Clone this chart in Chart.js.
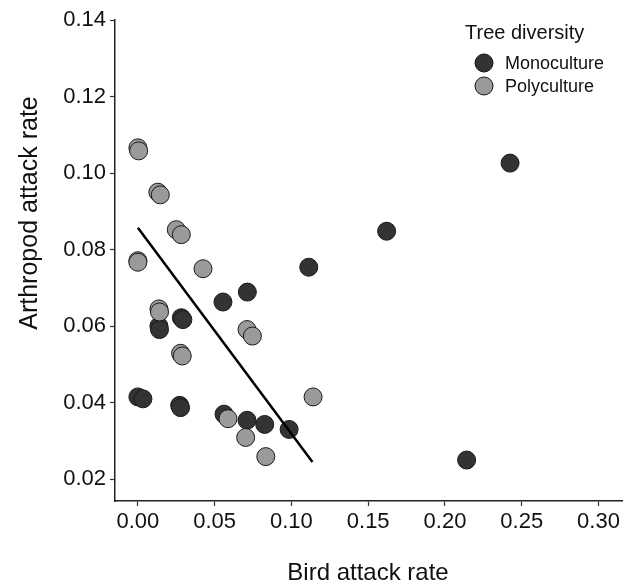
<!DOCTYPE html>
<html>
<head>
<meta charset="utf-8">
<script src="https://cdn.jsdelivr.net/npm/chart.js@4/dist/chart.umd.min.js"></script>
<style>
  body { margin: 0; background: #fff; }
  #wrap { width: 643px; height: 586px; }
</style>
</head>
<body>
<div id="wrap"><canvas id="chart" width="643" height="586"></canvas></div>
<script>
// values
const monoX = [0.2424, 0.162, 0.1113, 0.0713, 0.0554, 0.0283, 0.0293, 0.0137, 0.0141, 0.0, 0.0033, 0.0272, 0.0278, 0.0561, 0.0711, 0.0826, 0.0985, 0.2141];
const monoY = [0.1026, 0.0848, 0.0754, 0.0689, 0.0663, 0.0622, 0.0617, 0.0600, 0.0591, 0.0415, 0.0410, 0.0393, 0.0387, 0.0370, 0.0354, 0.0343, 0.0330, 0.0250];

const polyX = [0.0, 0.0005, 0.013, 0.0146, 0.025, 0.0283, 0.0, 0.0, 0.0424, 0.0137, 0.0141, 0.0278, 0.0289, 0.0711, 0.0746, 0.1141, 0.0587, 0.0702, 0.0833];
const polyY = [0.1066, 0.1058, 0.0950, 0.0943, 0.0852, 0.0839, 0.0771, 0.0767, 0.0750, 0.0645, 0.0637, 0.0529, 0.0522, 0.0591, 0.0574, 0.0415, 0.0358, 0.0309, 0.0259];

const fitX = [0.0, 0.1137];
const fitY = [0.0857, 0.0245];

const xTicks = [0.00, 0.05, 0.10, 0.15, 0.20, 0.25, 0.30];
const yTicks = [0.02, 0.04, 0.06, 0.08, 0.10, 0.12, 0.14];

const toPts = (xs, ys) => xs.map((x, i) => ({ x: x, y: ys[i] }));
const FONT = '"Liberation Sans", Arial, sans-serif';
const DARK = '#333333';
const GREY = '#9a9a9a';

// axis titles and legend drawn on top
const extras = {
    id: 'extras',
    afterDraw(chart) {
        const ctx = chart.ctx;
        ctx.save();
        ctx.fillStyle = '#111';

        ctx.font = '24px ' + FONT;
        ctx.textAlign = 'center';
        ctx.textBaseline = 'alphabetic';
        ctx.fillText('Bird attack rate', 368, 580);

        ctx.save();
        ctx.translate(37, 213);
        ctx.rotate(-Math.PI / 2);
        ctx.font = '25px ' + FONT;
        ctx.fillText('Arthropod attack rate', 0, 0);
        ctx.restore();

        // legend
        ctx.textAlign = 'left';
        ctx.textBaseline = 'middle';
        ctx.font = '20px ' + FONT;
        ctx.fillText('Tree diversity', 465, 33);
        const items = [['Monoculture', DARK, 63], ['Polyculture', GREY, 86]];
        items.forEach(([label, col, y]) => {
            ctx.beginPath();
            ctx.arc(484, y, 9, 0, Math.PI * 2);
            ctx.fillStyle = col;
            ctx.fill();
            ctx.lineWidth = 1;
            ctx.strokeStyle = '#111';
            ctx.stroke();
            ctx.fillStyle = '#111';
            ctx.font = '18px ' + FONT;
            ctx.fillText(label, 505, y + 1);
        });
        ctx.restore();
    }
};

const ctx = document.getElementById('chart').getContext('2d');
new Chart(ctx, {
    data: {
        datasets: [
            {
                type: 'line',
                label: 'fit',
                data: toPts(fitX, fitY),
                borderColor: '#000',
                borderWidth: 2.5,
                pointRadius: 0,
                fill: false,
                order: 0
            },
            {
                type: 'scatter',
                label: 'Polyculture',
                data: toPts(polyX, polyY),
                backgroundColor: GREY,
                borderColor: '#1a1a1a',
                borderWidth: 1,
                pointRadius: 9,
                order: 1
            },
            {
                type: 'scatter',
                label: 'Monoculture',
                data: toPts(monoX, monoY),
                backgroundColor: DARK,
                borderColor: '#1a1a1a',
                borderWidth: 1,
                pointRadius: 9,
                order: 2
            }
        ]
    },
    options: {
        responsive: false,
        animation: false,
        layout: { padding: { top: 20, right: 21, left: 0, bottom: 0 } },
        plugins: {
            legend: { display: false },
            tooltip: { enabled: false }
        },
        scales: {
            x: {
                type: 'linear',
                min: -0.0149,
                max: 0.3153,
                afterBuildTicks: (scale) => { scale.ticks = xTicks.map(v => ({ value: v })); },
                afterFit: (scale) => { scale.height = 85; },
                grid: { drawOnChartArea: false, drawTicks: true, tickLength: 5, tickColor: '#333', tickWidth: 1.2 },
                border: { color: '#222', width: 1.5 },
                ticks: {
                    padding: 3,
                    color: '#111',
                    font: { family: FONT, size: 22 },
                    callback: (v) => v.toFixed(2)
                }
            },
            y: {
                type: 'linear',
                min: 0.0143,
                max: 0.14,
                afterBuildTicks: (scale) => { scale.ticks = yTicks.map(v => ({ value: v })); },
                afterFit: (scale) => { scale.width = 115; },
                grid: { drawOnChartArea: false, drawTicks: true, tickLength: 5, tickColor: '#333', tickWidth: 1.2 },
                border: { color: '#222', width: 1.5 },
                ticks: {
                    padding: 4,
                    color: '#111',
                    font: { family: FONT, size: 22 },
                    callback: (v) => v.toFixed(2)
                }
            }
        }
    },
    plugins: [extras]
});
</script>
</body>
</html>
